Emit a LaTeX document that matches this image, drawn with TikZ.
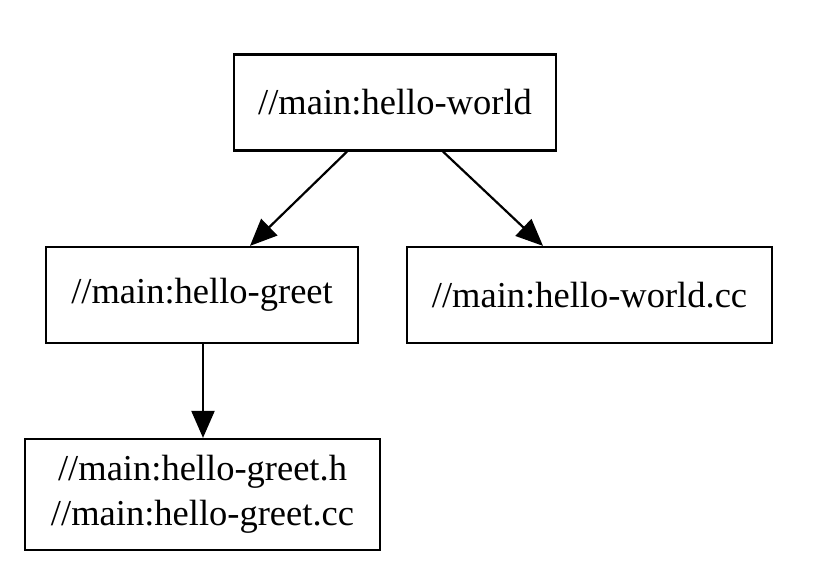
\documentclass[tikz,border=0pt]{standalone}
\usepackage{fontspec}
\setmainfont{Liberation Serif}
\usetikzlibrary{arrows.meta}
\begin{document}
\begin{tikzpicture}[x=1pt,y=1pt,
  box/.style={draw=black, line width=2.2pt, minimum height=96pt, inner sep=0pt, align=center, font=\fontsize{36.5}{45}\selectfont},
  edge/.style={draw=black, line width=2.2pt, -{Triangle[length=27pt,width=23pt]}}]
\useasboundingbox[fill=white] (0,0) rectangle (828,572);
\node[box, minimum width=322pt] (hw) at (395,469.5) {//main:hello-world};
\node[box, minimum width=312pt] (hg) at (202,277) {//main:hello-greet};
\node[box, minimum width=365pt] (hwcc) at (589.5,277) {//main:hello-world.cc};
\node[box, minimum width=355pt, minimum height=111pt] (hgh) at (202.5,77.5) {//main:hello-greet.h\\//main:hello-greet.cc};
\draw[edge] (hw.south -| 347,0) -- (hg.north -| 250,0);
\draw[edge] (hw.south -| 443,0) -- (hwcc.north -| 543,0);
\draw[edge] (hg.south -| 203,0) -- (hgh.north -| 203,0);
\end{tikzpicture}
\end{document}
